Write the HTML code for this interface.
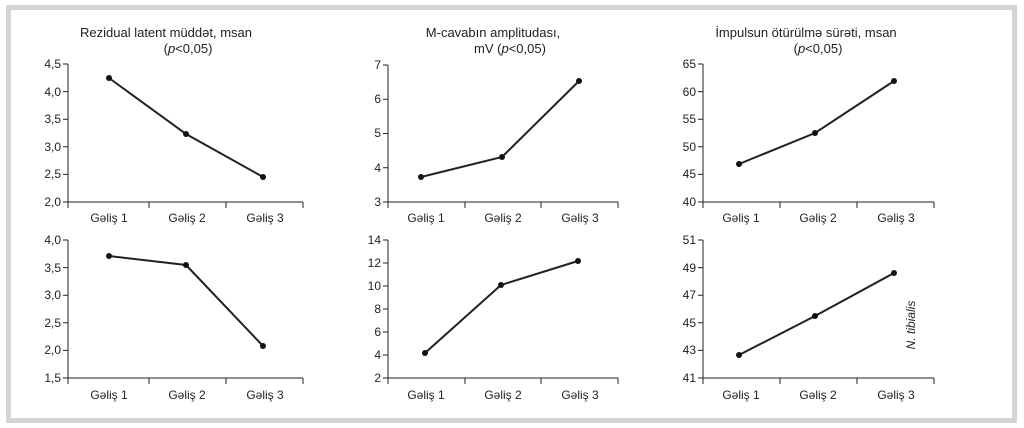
<!DOCTYPE html>
<html><head><meta charset="utf-8"><style>
html,body{margin:0;padding:0;background:#fff}
svg{display:block}
text{font-family:"Liberation Sans",sans-serif;fill:#222}
.t{font-size:13px}
.k{font-size:12px}
</style></head><body>
<svg width="1024" height="428" viewBox="0 0 1024 428">
<rect x="0" y="0" width="1024" height="428" fill="#fff"/>
<rect x="8.5" y="7.5" width="1006" height="413" fill="none" stroke="#d4d4d4" stroke-width="5"/>
<g stroke="#222" stroke-width="1" fill="none">
<!-- chart 1 -->
<path d="M68 64V202H303M68 202v6M149 202v6M226 202v6M303 202v6"/>
<path d="M63 64h5M63 91.6h5M63 119.2h5M63 146.8h5M63 174.4h5M63 202h5"/>
<!-- chart 2 -->
<path d="M388 65V202H618M388 202v6M465 202v6M541 202v6M618 202v6"/>
<path d="M383 65h5M383 99.25h5M383 133.5h5M383 167.75h5M383 202h5"/>
<!-- chart 3 -->
<path d="M703 64V202H934M703 202v6M780 202v6M857 202v6M934 202v6"/>
<path d="M698 64h5M698 91.6h5M698 119.2h5M698 146.8h5M698 174.4h5M698 202h5"/>
<!-- chart 4 -->
<path d="M68 240V378H303M68 378v6M149 378v6M226 378v6M303 378v6"/>
<path d="M63 240h5M63 267.6h5M63 295.2h5M63 322.8h5M63 350.4h5M63 378h5"/>
<!-- chart 5 -->
<path d="M388 240V378H618M388 378v6M465 378v6M541 378v6M618 378v6"/>
<path d="M383 240h5M383 263h5M383 286h5M383 309h5M383 332h5M383 355h5M383 378h5"/>
<!-- chart 6 -->
<path d="M703 240V378H934M703 378v6M780 378v6M857 378v6M934 378v6"/>
<path d="M698 240h5M698 267.6h5M698 295.2h5M698 322.8h5M698 350.4h5M698 378h5"/>
</g>
<g stroke="#222" stroke-width="2" fill="none">
<polyline points="109,78 186,134 263,177"/>
<polyline points="421,177 502,157 579,81"/>
<polyline points="739,164 815,133 894,81"/>
<polyline points="109,256 186,265 263,346"/>
<polyline points="425,353 501,285 578,261"/>
<polyline points="739,355 815,316 894,273"/>
</g>
<g fill="#111">
<circle cx="109" cy="78" r="3"/><circle cx="186" cy="134" r="3"/><circle cx="263" cy="177" r="3"/>
<circle cx="421" cy="177" r="3"/><circle cx="502" cy="157" r="3"/><circle cx="579" cy="81" r="3"/>
<circle cx="739" cy="164" r="3"/><circle cx="815" cy="133" r="3"/><circle cx="894" cy="81" r="3"/>
<circle cx="109" cy="256" r="3"/><circle cx="186" cy="265" r="3"/><circle cx="263" cy="346" r="3"/>
<circle cx="425" cy="353" r="3"/><circle cx="501" cy="285" r="3"/><circle cx="578" cy="261" r="3"/>
<circle cx="739" cy="355" r="3"/><circle cx="815" cy="316" r="3"/><circle cx="894" cy="273" r="3"/>
</g>
<g class="t" text-anchor="middle">
<text x="166" y="37">Rezidual latent müddət, msan</text>
<text x="188" y="53">(<tspan font-style="italic">p</tspan>&lt;0,05)</text>
<text x="493" y="37">M-cavabın amplitudası,</text>
<text x="510" y="53">mV (<tspan font-style="italic">p</tspan>&lt;0,05)</text>
<text x="806" y="37">İmpulsun ötürülmə sürəti, msan</text>
<text x="818" y="53">(<tspan font-style="italic">p</tspan>&lt;0,05)</text>
</g>
<g class="k" text-anchor="middle">
<text x="109" y="222">Gəliş 1</text><text x="187" y="222">Gəliş 2</text><text x="265" y="222">Gəliş 3</text>
<text x="426" y="222">Gəliş 1</text><text x="503" y="222">Gəliş 2</text><text x="580" y="222">Gəliş 3</text>
<text x="741" y="222">Gəliş 1</text><text x="818" y="222">Gəliş 2</text><text x="896" y="222">Gəliş 3</text>
<text x="109" y="399">Gəliş 1</text><text x="187" y="399">Gəliş 2</text><text x="265" y="399">Gəliş 3</text>
<text x="426" y="399">Gəliş 1</text><text x="503" y="399">Gəliş 2</text><text x="580" y="399">Gəliş 3</text>
<text x="741" y="399">Gəliş 1</text><text x="818" y="399">Gəliş 2</text><text x="896" y="399">Gəliş 3</text>
</g>
<g class="k" text-anchor="end">
<text x="61" y="68">4,5</text><text x="61" y="96">4,0</text><text x="61" y="123">3,5</text><text x="61" y="151">3,0</text><text x="61" y="178">2,5</text><text x="61" y="206">2,0</text>
<text x="381" y="69">7</text><text x="381" y="103">6</text><text x="381" y="137">5</text><text x="381" y="172">4</text><text x="381" y="206">3</text>
<text x="696" y="68">65</text><text x="696" y="96">60</text><text x="696" y="123">55</text><text x="696" y="151">50</text><text x="696" y="178">45</text><text x="696" y="206">40</text>
<text x="61" y="244">4,0</text><text x="61" y="272">3,5</text><text x="61" y="299">3,0</text><text x="61" y="327">2,5</text><text x="61" y="354">2,0</text><text x="61" y="382">1,5</text>
<text x="381" y="244">14</text><text x="381" y="267">12</text><text x="381" y="290">10</text><text x="381" y="313">8</text><text x="381" y="336">6</text><text x="381" y="359">4</text><text x="381" y="382">2</text>
<text x="696" y="244">51</text><text x="696" y="272">49</text><text x="696" y="299">47</text><text x="696" y="327">45</text><text x="696" y="354">43</text><text x="696" y="382">41</text>
</g>
<text x="0" y="0" class="k" font-style="italic" text-anchor="middle" transform="translate(915,325) rotate(-90)">N. tibialis</text>
</svg>
</body></html>
